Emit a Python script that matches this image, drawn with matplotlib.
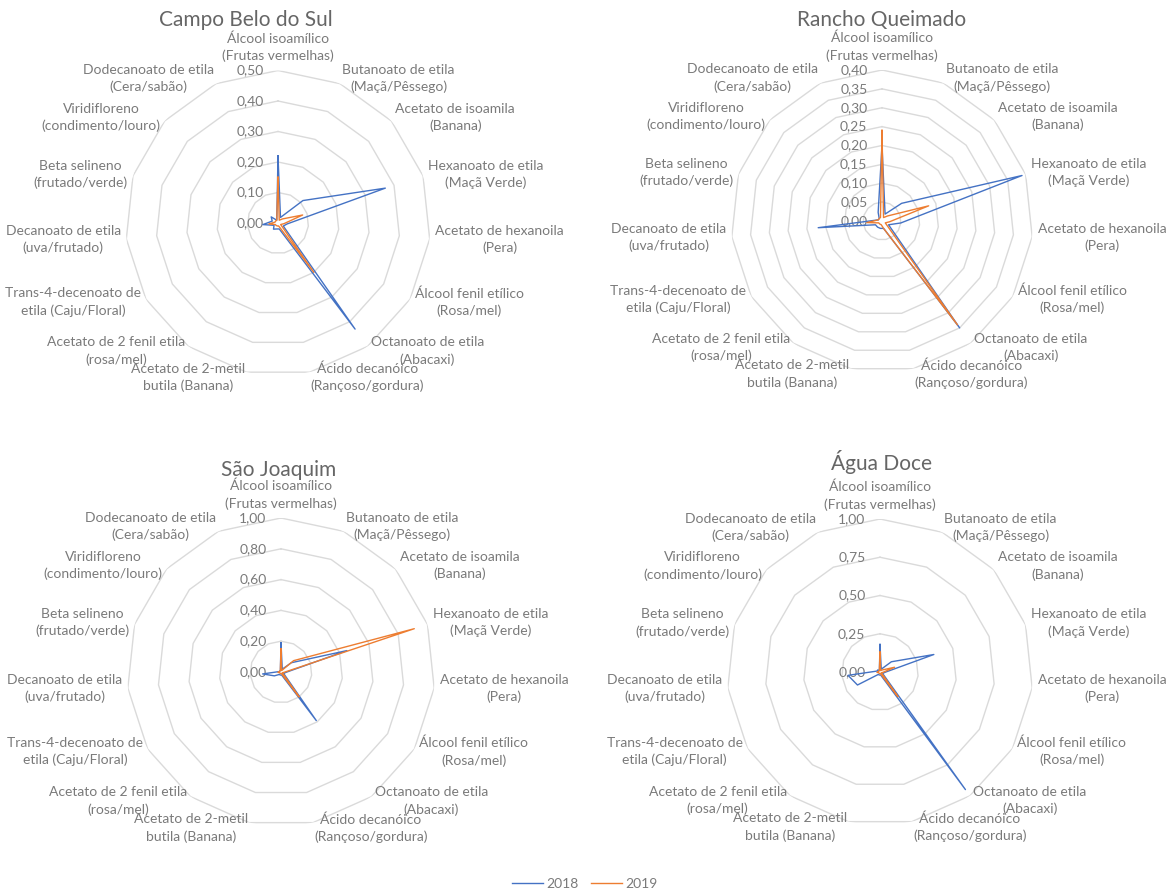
import numpy as np
import matplotlib
matplotlib.use('Agg')
import matplotlib.pyplot as plt
from matplotlib.lines import Line2D

plt.rcParams['font.family'] = ['Lato', 'DejaVu Sans']

compostos = [
    "Álcool isoamílico\n(Frutas vermelhas)",
    "Butanoato de etila\n(Maçã/Pêssego)",
    "Acetato de isoamila\n(Banana)",
    "Hexanoato de etila\n(Maçã Verde)",
    "Acetato de hexanoila\n(Pera)",
    "Álcool fenil etílico\n(Rosa/mel)",
    "Octanoato de etila\n(Abacaxi)",
    "Ácido decanóico\n(Rançoso/gordura)",
    "Acetato de 2-metil\nbutila (Banana)",
    "Acetato de 2 fenil etila\n(rosa/mel)",
    "Trans-4-decenoato de\netila (Caju/Floral)",
    "Decanoato de etila\n(uva/frutado)",
    "Beta selineno\n(frutado/verde)",
    "Viridifloreno\n(condimento/louro)",
    "Dodecanoato de etila\n(Cera/sabão)",
]

campo_belo_2018 = [0.22, 0.02, 0.11, 0.37, 0.03, 0.02, 0.43, 0.02, 0.02, 0.025, 0.015, 0.05, 0.02, 0.03, 0.01]
campo_belo_2019 = [0.15, 0.01, 0.02, 0.085, 0.02, 0.01, 0.20, 0.01, 0.01, 0.01, 0.01, 0.03, 0.01, 0.01, 0.01]
rancho_2018 = [0.20, 0.02, 0.07, 0.39, 0.05, 0.02, 0.35, 0.02, 0.02, 0.02, 0.02, 0.17, 0.01, 0.01, 0.025]
rancho_2019 = [0.24, 0.01, 0.02, 0.13, 0.02, 0.01, 0.34, 0.02, 0.01, 0.01, 0.01, 0.04, 0.01, 0.01, 0.01]
sao_joaquim_2018 = [0.19, 0.02, 0.09, 0.45, 0.03, 0.02, 0.39, 0.02, 0.02, 0.02, 0.05, 0.12, 0.01, 0.01, 0.01]
sao_joaquim_2019 = [0.15, 0.01, 0.11, 0.91, 0.02, 0.01, 0.20, 0.01, 0.01, 0.01, 0.01, 0.02, 0.01, 0.01, 0.01]
agua_doce_2018 = [0.18, 0.02, 0.10, 0.37, 0.03, 0.02, 0.95, 0.02, 0.02, 0.02, 0.17, 0.21, 0.02, 0.02, 0.01]
agua_doce_2019 = [0.13, 0.01, 0.02, 0.10, 0.02, 0.01, 0.20, 0.01, 0.01, 0.01, 0.01, 0.02, 0.01, 0.01, 0.01]

ticks_cbs = [0.0, 0.1, 0.2, 0.3, 0.4, 0.5]
ticks_rq = [0.0, 0.05, 0.10, 0.15, 0.20, 0.25, 0.30, 0.35, 0.40]
ticks_sj = [0.0, 0.2, 0.4, 0.6, 0.8, 1.0]
ticks_ad = [0.0, 0.25, 0.5, 0.75, 1.0]

AZUL = '#4472C4'
LARANJA = '#ED7D31'
CINZA_TXT = '#7a7a7a'
CINZA_GRID = '#dadada'

W, H = 1173, 892
fig = plt.figure(figsize=(W / 100, H / 100), dpi=100)

# (titulo, dados 2018, dados 2019, ticks, centro x, centro y, raio px, titulo x, titulo y)
graficos = [
    ("Campo Belo do Sul", campo_belo_2018, campo_belo_2019, ticks_cbs, 278, 223, 152.5, 246, 20),
    ("Rancho Queimado", rancho_2018, rancho_2019, ticks_rq, 882, 221, 151, 882, 20),
    ("São Joaquim", sao_joaquim_2018, sao_joaquim_2019, ticks_sj, 281, 672, 154, 279, 470),
    ("Água Doce", agua_doce_2018, agua_doce_2019, ticks_ad, 880, 672, 153, 882, 462),
]

n = len(compostos)
ang = np.linspace(0, 2 * np.pi, n, endpoint=False)
ang_f = np.append(ang, ang[0])

for titulo, v18, v19, ticks, cx, cy, R, tx, ty in graficos:
    ax = fig.add_axes([(cx - R) / W, 1 - (cy + R) / H, 2 * R / W, 2 * R / H],
                      projection='polar')
    ax.set_theta_zero_location('N')
    ax.set_theta_direction(-1)
    rmax = ticks[-1]
    ax.set_ylim(0, rmax)
    ax.axis('off')

    # aneis poligonais
    for t in ticks[1:]:
        ax.plot(ang_f, [t] * (n + 1), color=CINZA_GRID, lw=1.0, zorder=1)

    for t in ticks:
        ax.annotate(f"{t:.2f}".replace('.', ','), xy=(0, t), xytext=(-10.5, 0),
                    textcoords='offset points', ha='right', va='center',
                    fontsize=10, color=CINZA_TXT, zorder=2)

    ax.plot(ang_f, np.append(v18, v18[0]), color=AZUL, lw=1.0, zorder=3)
    ax.plot(ang_f, np.append(v19, v19[0]), color=LARANJA, lw=1.0, zorder=4)

    for a, nome in zip(ang, compostos):
        s, c = np.sin(a), np.cos(a)
        if abs(s) < 0.1:
            ha = 'center'
        elif s > 0:
            ha = 'left'
        else:
            ha = 'right'
        if c > 0.95:
            va, gap = 'bottom', 6
        else:
            va, gap = 'center', 4
        ax.annotate(nome, xy=(a, rmax), xytext=(gap * s, gap * c),
                    textcoords='offset points', ha=ha, va=va,
                    multialignment='center', fontsize=10, color=CINZA_TXT,
                    linespacing=1.45, annotation_clip=False)

    fig.text(tx / W, 1 - ty / H, titulo, ha='center', va='center',
             fontsize=15, color='#666666')

handles = [Line2D([], [], color=AZUL, lw=1.0), Line2D([], [], color=LARANJA, lw=1.0)]
fig.legend(handles, ['2018', '2019'], loc='center', ncol=2, frameon=False,
           bbox_to_anchor=(585 / W, 1 - 884 / H), fontsize=10,
           labelcolor=CINZA_TXT, handlelength=2.2, handletextpad=0.25,
           columnspacing=0.9)

fig.savefig('out.png', dpi=100)
